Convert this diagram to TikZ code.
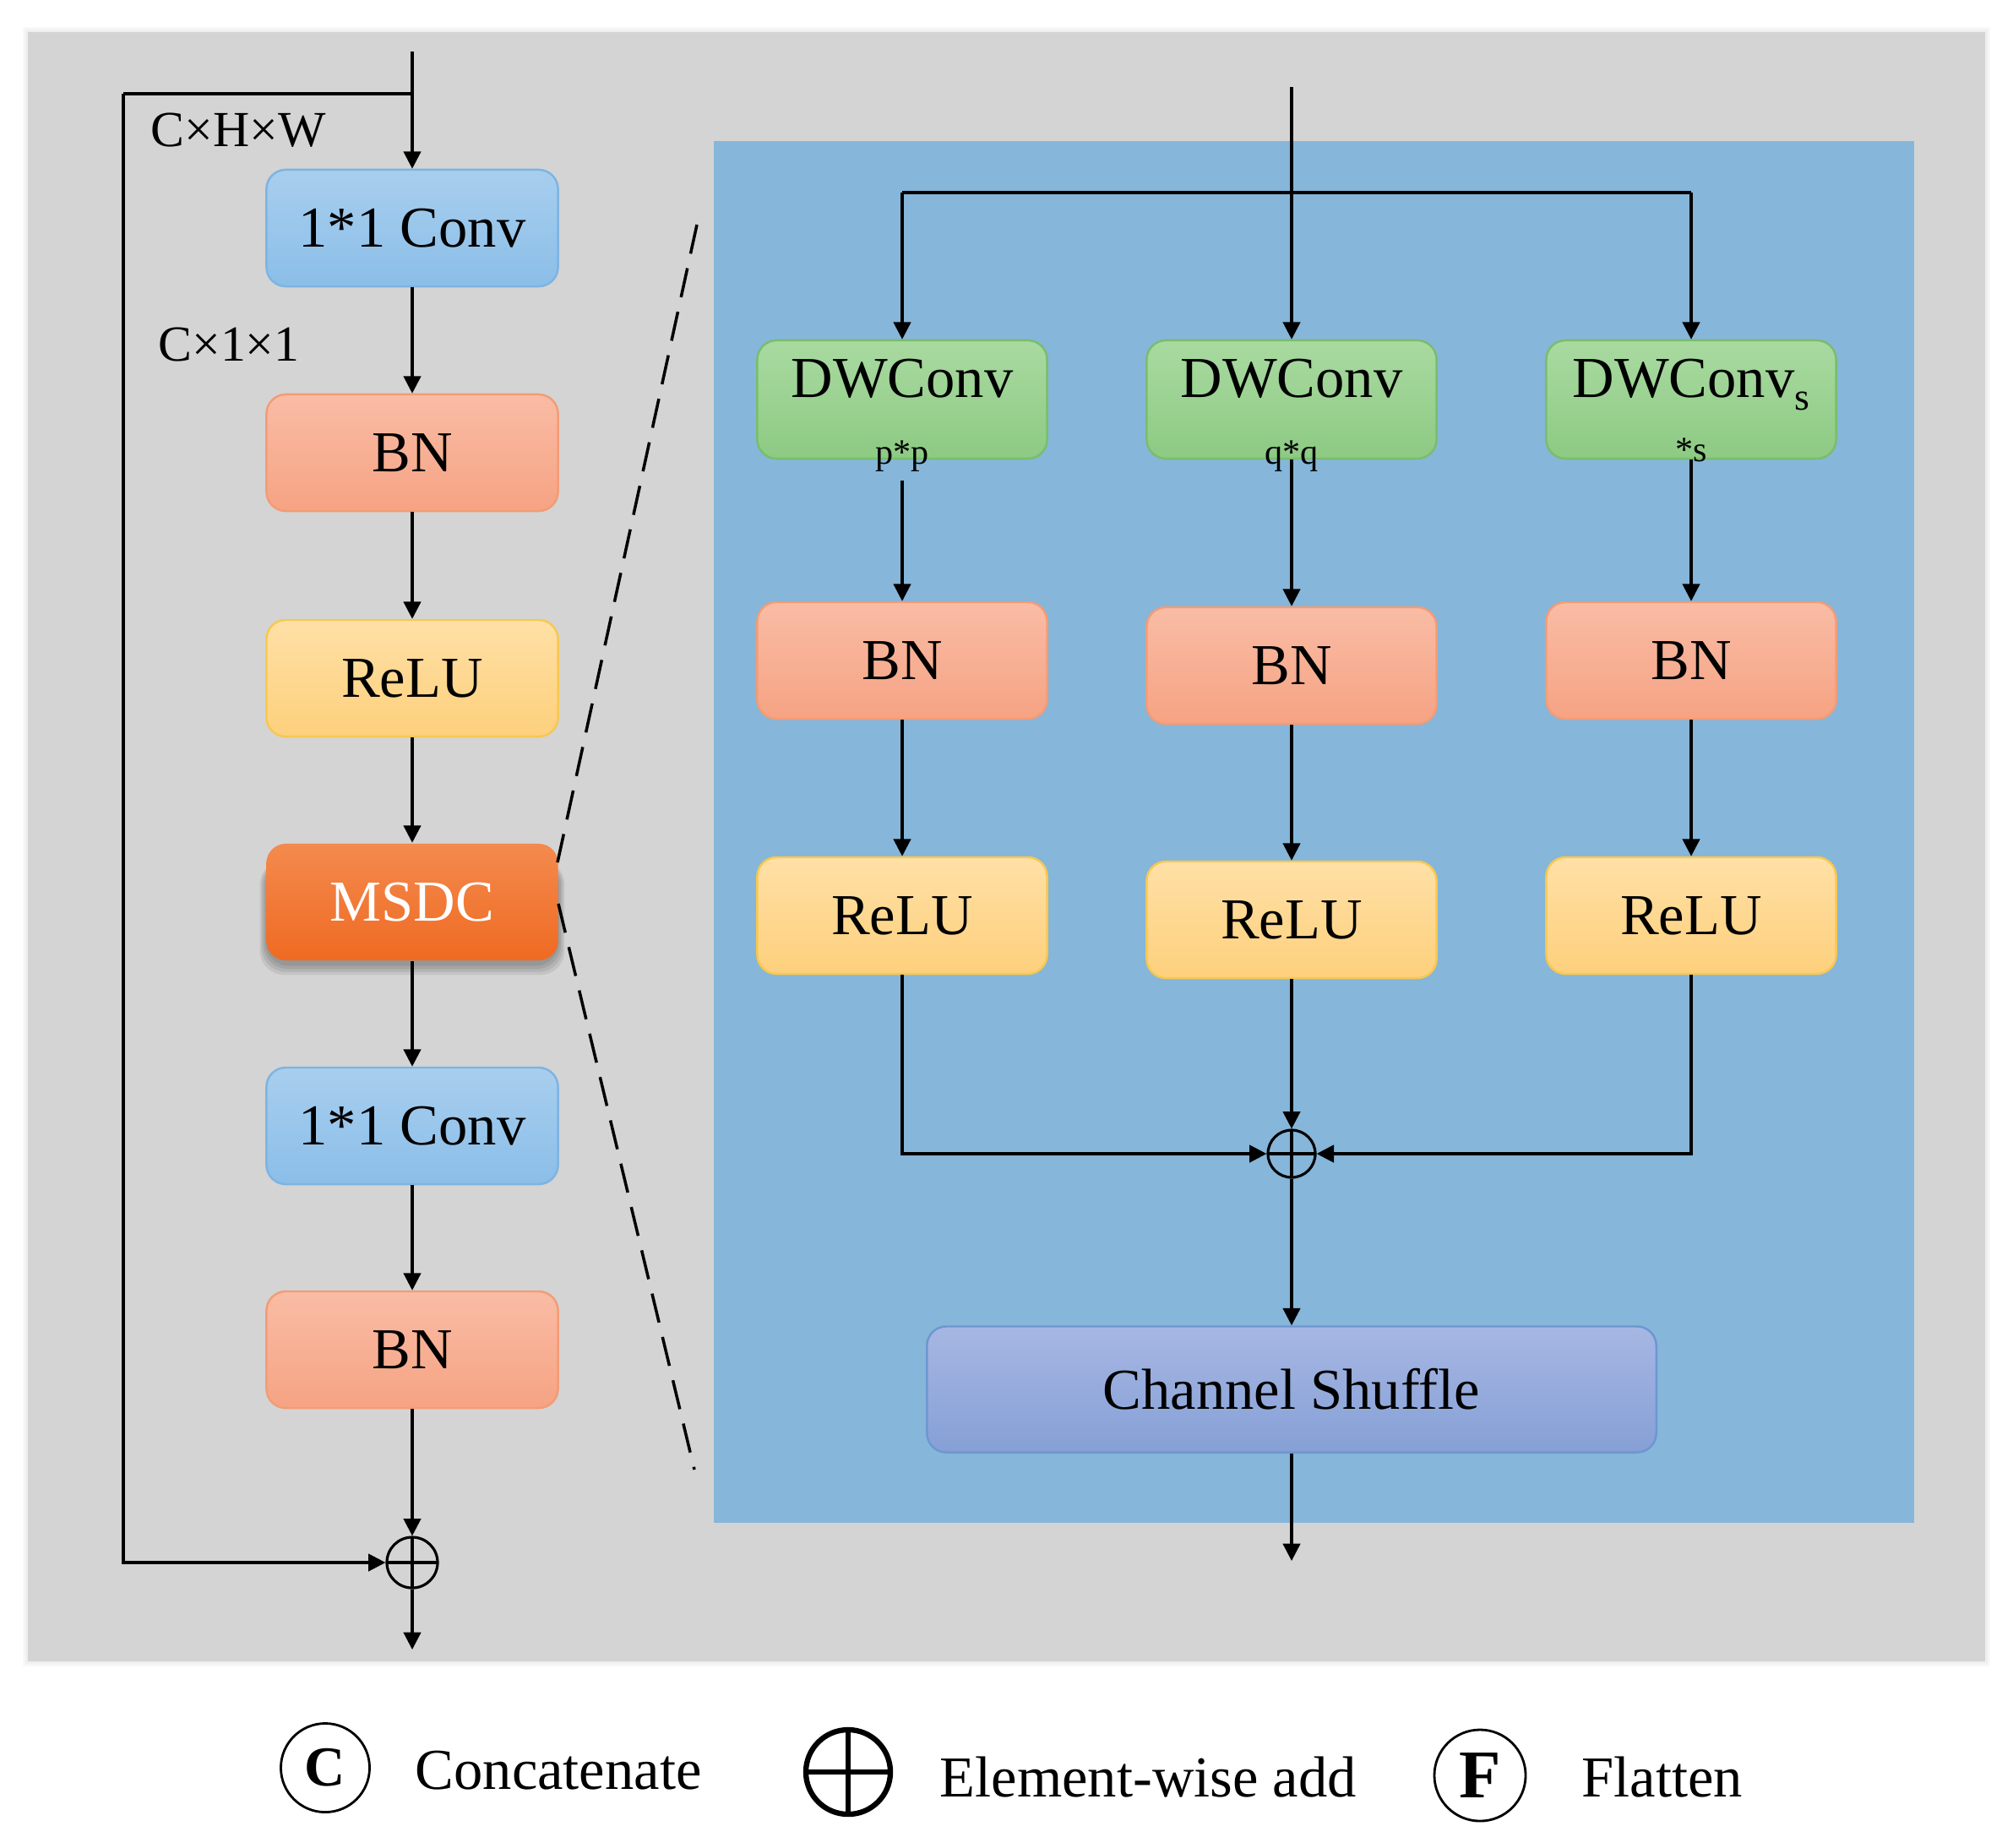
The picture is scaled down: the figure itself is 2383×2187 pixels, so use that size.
\documentclass[tikz,border=0pt]{standalone}
\usepackage{fontspec}
\setmainfont{Liberation Serif}
\usetikzlibrary{arrows.meta}
\pgfdeclarelayer{bglayer}
\pgfdeclarelayer{shlayer}
\pgfsetlayers{bglayer,shlayer,main}
\definecolor{bgGray}{HTML}{D4D4D4}
\definecolor{panelBlue}{HTML}{86B6D9}
\definecolor{convT}{HTML}{A8CEEE}
\definecolor{convB}{HTML}{8BBEE8}
\definecolor{convD}{HTML}{7DB4E2}
\definecolor{bnT}{HTML}{F9BCA5}
\definecolor{bnB}{HTML}{F6A383}
\definecolor{bnD}{HTML}{F39C76}
\definecolor{reT}{HTML}{FFE0A6}
\definecolor{reB}{HTML}{FDD07C}
\definecolor{reD}{HTML}{F7C850}
\definecolor{msT}{HTML}{F48A4E}
\definecolor{msB}{HTML}{EF6A22}
\definecolor{dwT}{HTML}{A9DAA1}
\definecolor{dwB}{HTML}{8DCA83}
\definecolor{dwD}{HTML}{78BE6C}
\definecolor{csT}{HTML}{A7B7E3}
\definecolor{csB}{HTML}{85A0D6}
\definecolor{csD}{HTML}{6F96D2}
\tikzset{
  boxbase/.style={rectangle, rounded corners=6.5pt, minimum width=3.45cm, minimum height=1.38cm,
    inner sep=0pt, line width=0.7pt, font=\fontsize{19.5}{23}\selectfont},
  convbox/.style={boxbase, draw=convD, top color=convT, bottom color=convB},
  bnbox/.style={boxbase, draw=bnD, top color=bnT, bottom color=bnB},
  relubox/.style={boxbase, draw=reD, top color=reT, bottom color=reB},
  msdcbox/.style={boxbase, top color=msT, bottom color=msB, text=white},
  dwbox/.style={boxbase, draw=dwD, top color=dwT, bottom color=dwB, minimum width=3.43cm, minimum height=1.40cm},
  csbox/.style={boxbase, draw=csD, top color=csT, bottom color=csB, minimum width=8.63cm, minimum height=1.49cm},
  rbox/.style={minimum width=3.43cm},
  boxtext/.style={inner sep=0pt, font=\fontsize{19.5}{23}\selectfont},
  smalltext/.style={inner sep=0pt, font=\fontsize{12}{14}\selectfont},
  dimtext/.style={inner sep=0pt, font=\fontsize{17}{20}\selectfont},
  legtext/.style={inner sep=0pt, font=\fontsize{19.5}{23}\selectfont, anchor=base west},
  ln/.style={line width=0.9pt},
  arr/.style={line width=0.9pt, -{Triangle[length=5.8pt,width=5.8pt]}},
  dashln/.style={line width=1pt, dash pattern=on 10pt off 5pt},
  softshadow/.style={fill=black, opacity=0.08, rounded corners=8pt},
  plusnode/.style={circle, draw, line width=0.9pt, inner sep=0pt,
    path picture={\draw[line width=0.9pt] (path picture bounding box.north) -- (path picture bounding box.south)
      (path picture bounding box.west) -- (path picture bounding box.east);}},
  legcirc/.style={circle, draw, line width=0.8pt, inner sep=0pt, minimum size=1.05cm}
}
\begin{document}
\begin{tikzpicture}[x=0.01cm,y=-0.01cm]
\useasboundingbox (0,0) rectangle (2383,2187);
% backgrounds
\begin{pgfonlayer}{bglayer}
\foreach \k in {6,4,2} {
  \fill[bgGray, opacity=0.15] (33-\k,38-\k) rectangle (2350+\k,1967+\k);
}
\fill[bgGray] (33,38) rectangle (2350,1967);
\fill[panelBlue] (845,167) rectangle (2266,1803);
\end{pgfonlayer}

% ---------- left column ----------
\node[convbox] (conv1) at (488,270) {1*1 Conv};
\node[bnbox]   (bn1)   at (488,536) {BN};
\node[relubox] (relu1) at (488,803) {ReLU};
\node[msdcbox] (msdc)  at (488,1068) {MSDC};
\node[convbox] (conv2) at (488,1333) {1*1 Conv};
\node[bnbox]   (bn2)   at (488,1598) {BN};
\node[plusnode, minimum size=0.6cm] (plusL) at (488,1850) {};

\begin{pgfonlayer}{shlayer}
\foreach \k in {0,1,2,3} {
  \fill[softshadow] ([xshift=-\k pt*0.6, yshift=-\k pt-1.5pt]msdc.south west) rectangle ([xshift=\k pt*0.6, yshift=-6pt]msdc.north east);
}
\end{pgfonlayer}

\coordinate (inL) at (488,61);
\coordinate (brL) at (488,111);
\coordinate (skL) at (146,111);
\coordinate (outL) at (488,1953);

\node[dimtext] (dimA) at (282,154) {C×H×W};
\node[dimtext] (dimB) at (271,408) {C×1×1};

\draw[arr] (inL) -- (conv1.north);
\draw[ln] (brL) -- (skL);
\draw[arr] (skL) |- (plusL.west);
\draw[arr] (conv1.south) -- (bn1.north);
\draw[arr] (bn1.south) -- (relu1.north);
\draw[arr] (relu1.south) -- (msdc.north);
\draw[arr] (msdc.south) -- (conv2.north);
\draw[arr] (conv2.south) -- (bn2.north);
\draw[arr] (bn2.south) -- (plusL.north);
\draw[arr] (plusL.south) -- (outL);

% dashed zoom lines
\coordinate (dA1) at (825,266);
\coordinate (dA2) at (660,1021);
\coordinate (dB1) at (661,1070);
\coordinate (dB2) at (822,1740);
\draw[dashln] (dA1) -- (dA2);
\draw[dashln] (dB1) -- (dB2);

% ---------- right panel ----------
\node[dwbox] (dwA) at (1068,473) {};
\node[dwbox] (dwB) at (1529,473) {};
\node[dwbox] (dwC) at (2002,473) {};
\node[boxtext, anchor=base] (dwAt) at (1068,470) {DWConv};
\node[boxtext, anchor=base] (dwBt) at (1529,470) {DWConv};
\node[boxtext, anchor=base] (dwCt) at (2002,470) {DWConv\raisebox{-4.5pt}{\fontsize{13}{14}\selectfont s}};
\node[smalltext, anchor=base] (pA) at (1068,549) {p*p};
\node[smalltext, anchor=base] (pB) at (1529,549) {q*q};
\node[smalltext, anchor=base] (pC) at (2002,546) {*s};

\node[bnbox, rbox] (bnA) at (1068,782) {BN};
\node[bnbox, rbox] (bnB) at (1529,788) {BN};
\node[bnbox, rbox] (bnC) at (2002,782) {BN};
\node[relubox, rbox] (reA) at (1068,1084) {ReLU};
\node[relubox, rbox] (reB) at (1529,1089) {ReLU};
\node[relubox, rbox] (reC) at (2002,1084) {ReLU};

\node[plusnode, minimum size=0.56cm] (plusR) at (1529,1366) {};
\node[csbox] (cs) at (1529,1645) {Channel Shuffle};

\coordinate (inR) at (1529,103);
\coordinate (hL) at (1068,228);
\coordinate (hR) at (2002,228);
\coordinate (outR) at (1529,1848);

\draw[arr] (inR) -- (dwB.north);
\draw[ln] (hL) -- (hR);
\draw[arr] (hL) -- (dwA.north);
\draw[arr] (hR) -- (dwC.north);

\draw[arr] (pA.south) ++(0,10) -- (bnA.north);
\draw[arr] (dwB.south) -- (bnB.north);
\draw[arr] (dwC.south) -- (bnC.north);
\draw[arr] (bnA.south) -- (reA.north);
\draw[arr] (bnB.south) -- (reB.north);
\draw[arr] (bnC.south) -- (reC.north);
\draw[arr] (reA.south) |- (plusR.west);
\draw[arr] (reC.south) |- (plusR.east);
\draw[arr] (reB.south) -- (plusR.north);
\draw[arr] (plusR.south) -- (cs.north);
\draw[arr] (cs.south) -- (outR);

% ---------- legend ----------
\node[legcirc, font=\fontsize{19}{22}\selectfont\bfseries] (lgC) at (385,2093) {C};
\node[legtext] (lgCt) at (491,2118) {Concatenate};
\node[plusnode, line width=1.8pt, minimum size=1.0cm,
  path picture={\draw[line width=1.6pt] (path picture bounding box.north) -- (path picture bounding box.south)
      (path picture bounding box.west) -- (path picture bounding box.east);}] (lgP) at (1004,2098) {};
\node[legtext] (lgPt) at (1112,2127) {Element-wise add};
\node[legcirc, minimum size=1.08cm, font=\fontsize{23}{25}\selectfont\bfseries] (lgF) at (1752,2102) {F};
\node[legtext] (lgFt) at (1872,2127) {Flatten};
\end{tikzpicture}
\end{document}
